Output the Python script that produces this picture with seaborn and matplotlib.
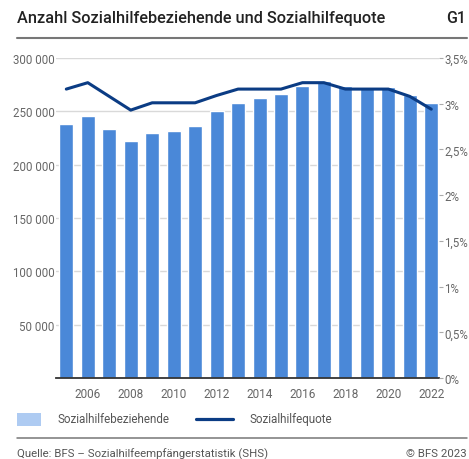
import numpy as np
import pandas as pd
import seaborn as sns
import matplotlib
matplotlib.use("Agg")
import matplotlib.pyplot as plt
from matplotlib.patches import Rectangle
from matplotlib.lines import Line2D
from matplotlib.ticker import FuncFormatter

years = list(range(2005, 2023))
beziehende = [237800, 245300, 233700, 222500, 230000, 231200, 236200, 250300, 257500,
              262200, 265900, 273400, 278400, 274200, 272200, 272500, 265300, 257500]
quote = [3.16, 3.23, 3.08, 2.93, 3.01, 3.01, 3.01, 3.09, 3.16,
         3.16, 3.16, 3.23, 3.23, 3.16, 3.16, 3.16, 3.08, 2.94]
left_ticks = [0, 50000, 100000, 150000, 200000, 250000, 300000]
right_ticks = [0, 0.5, 1, 1.5, 2, 2.5, 3, 3.5]
xticks = list(range(2006, 2023, 2))

title = "Anzahl Sozialhilfebeziehende und Sozialhilfequote"
code = "G1"
legend_labels = ["Sozialhilfebeziehende", "Sozialhilfequote"]
source = "Quelle: BFS – Sozialhilfeempfängerstatistik (SHS)"
copyright_txt = "© BFS 2023"

df = pd.DataFrame({"Jahr": years, "Anzahl": beziehende, "Quote": quote})

sns.set_theme(style="white")
plt.rcParams["font.family"] = ["Roboto", "DejaVu Sans"]

W, H = 469, 460
fig = plt.figure(figsize=(W / 100, H / 100), dpi=100)

ax_l, ax_r, ax_t, ax_b = 56, 439, 59, 379
ax = fig.add_axes([ax_l / W, 1 - ax_b / H, (ax_r - ax_l) / W, (ax_b - ax_t) / H])

bar_color = "#4a88d8"
line_color = "#0b3c84"
grid_color = "#d9d9d9"
tick_color = "#666666"

sns.barplot(data=df, x="Jahr", y="Anzahl", native_scale=True, width=0.652,
            color=bar_color, saturation=1, ax=ax, zorder=2)
ax.set_xlim(2004.52, 2022.36)
ax.set_ylim(0, 300000)
ax.set_yticks(left_ticks)
ax.yaxis.set_major_formatter(FuncFormatter(lambda v, p: f"{int(v):,}".replace(",", " ") if v > 0 else ""))
ax.set_xticks(xticks)
ax.set_xticklabels([str(x) for x in xticks])
ax.set_xlabel("")
ax.set_ylabel("")
for v in left_ticks[1:]:
    ax.axhline(v, color=grid_color, lw=1, zorder=1)
for s in ["top", "right", "left"]:
    ax.spines[s].set_visible(False)
ax.spines["bottom"].set_color("#333333")
ax.spines["bottom"].set_linewidth(1.3)
ax.spines["bottom"].set_zorder(4)
ax.tick_params(axis="x", length=0, pad=6.5, labelsize=8.5, labelcolor=tick_color)
ax.tick_params(axis="y", length=0, pad=1, labelsize=8.3, labelcolor=tick_color)

ax2 = ax.twinx()
sns.lineplot(data=df, x="Jahr", y="Quote", color=line_color, lw=2.2, ax=ax2, zorder=5)
ax2.set_ylim(0, 3.5)
ax2.set_yticks(right_ticks)
ax2.yaxis.set_major_formatter(FuncFormatter(lambda v, p: (f"{v:g}".replace(".", ",") + "%")))
ax2.set_xlim(2004.52, 2022.36)
ax2.set_ylabel("")
ax2.set_xlabel("")
for s in ["top", "left", "bottom", "right"]:
    ax2.spines[s].set_visible(False)
ax2.tick_params(axis="y", length=3, width=0.8, color="#aaaaaa", pad=1, labelsize=8.3, labelcolor=tick_color)

# Header
fig.text(17 / W, 1 - 18.5 / H, title, ha="left", va="center", fontsize=11.7,
         fontweight="medium", color="#222222")
fig.text(466 / W, 1 - 18.5 / H, code, ha="right", va="center", fontsize=11.4,
         fontweight="medium", color="#222222")
fig.add_artist(Line2D([17 / W, 467 / W], [1 - 39 / H, 1 - 39 / H], color="#777777", lw=1.5))

# Legend
fig.add_artist(Rectangle((17 / W, 1 - 427 / H), 24 / W, 13 / H, facecolor="#aecbf2", edgecolor="none"))
fig.text(57 / W, 1 - 420 / H, legend_labels[0], ha="left", va="center", fontsize=8.4, color="#555555")
fig.add_artist(Line2D([196 / W, 233 / W], [1 - 420 / H, 1 - 420 / H], color=line_color, lw=2.3))
fig.text(249 / W, 1 - 420 / H, legend_labels[1], ha="left", va="center", fontsize=8.4, color="#555555")

# Footer
fig.add_artist(Line2D([17 / W, 467 / W], [1 - 439 / H, 1 - 439 / H], color="#777777", lw=1.1))
fig.text(17 / W, 1 - 454 / H, source, ha="left", va="center", fontsize=8.2, color="#555555")
fig.text(467 / W, 1 - 454 / H, copyright_txt, ha="right", va="center", fontsize=8.2, color="#555555")

fig.savefig("out.png", dpi=100)
